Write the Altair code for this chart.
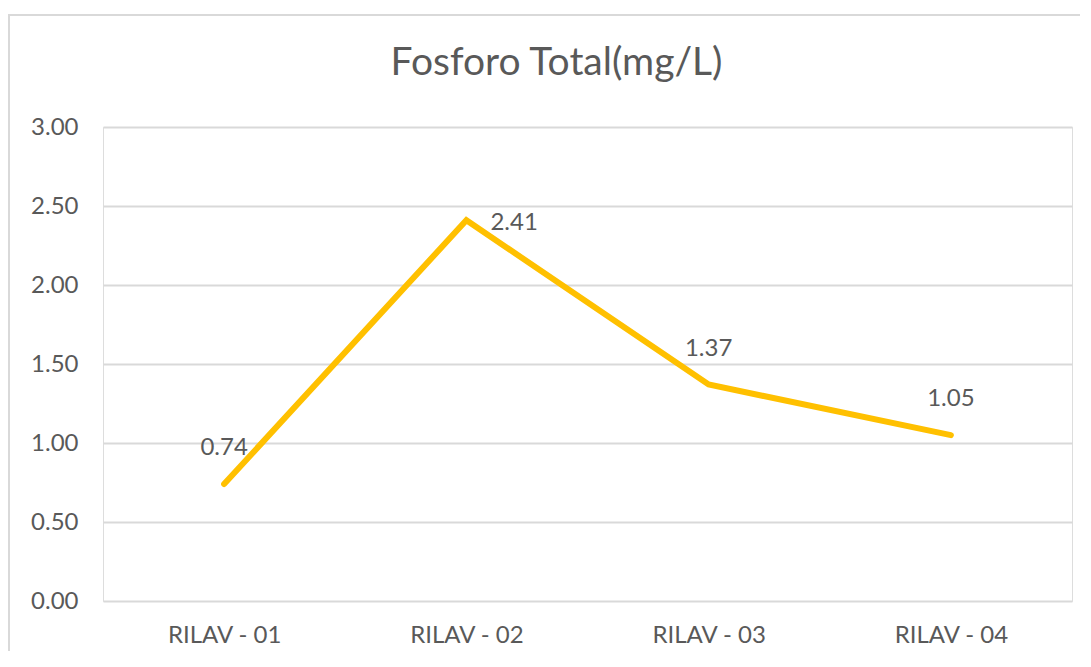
import altair as alt
import pandas as pd

categories = ["RILAV - 01", "RILAV - 02", "RILAV - 03", "RILAV - 04"]
values = [0.74, 2.41, 1.37, 1.05]
y_ticks = [0.0, 0.5, 1.0, 1.5, 2.0, 2.5, 3.0]

df = pd.DataFrame({"cat": categories, "val": values})

FONT = "Lato"
GREY = "#595959"

x = alt.X("cat:N", sort=categories, title=None,
          scale=alt.Scale(type="point", padding=0.5),
          axis=alt.Axis(labelAngle=0, labelFontSize=24, labelColor=GREY, labelFont=FONT,
                        domain=False, ticks=False, labelPadding=22, grid=False))
y = alt.Y("val:Q", title=None,
          scale=alt.Scale(domain=[0, 3], nice=False, zero=True),
          axis=alt.Axis(values=y_ticks, format=".2f", labelFontSize=24, labelColor=GREY,
                        labelFont=FONT, domain=False, ticks=False, labelPadding=25,
                        gridColor="#d9d9d9", gridWidth=2))

base = alt.Chart(df)

line = base.mark_line(color="#FFC000", strokeWidth=6, strokeCap="round", strokeJoin="miter").encode(x=x, y=y)

labels_above = base.transform_filter(alt.datum.cat != "RILAV - 02").mark_text(
    dy=-36, fontSize=24, font=FONT, color=GREY, align="center", baseline="middle"
).encode(x=x, y=y, text=alt.Text("val:Q", format=".2f"))

labels_right = base.transform_filter(alt.datum.cat == "RILAV - 02").mark_text(
    dx=24, dy=3, fontSize=24, font=FONT, color=GREY, align="left", baseline="middle"
).encode(x=x, y=y, text=alt.Text("val:Q", format=".2f"))

frame = base.transform_filter(alt.datum.cat == "RILAV - 01").mark_rect(
    fill=None, stroke="#d9d9d9", strokeWidth=2
).encode(x=alt.value(-94), x2=alt.value(1000), y=alt.value(-112), y2=alt.value(700))

chart = alt.layer(frame, line, labels_above, labels_right).properties(
    width=969, height=474,
    title=alt.TitleParams("Fosforo Total(mg/L)", fontSize=39, font=FONT, fontWeight="normal",
                          color=GREY, offset=-88, dx=-31, baseline="middle"),
    padding={"left": 95, "top": 119, "right": 8, "bottom": 50},
    autosize=alt.AutoSizeParams(type="none"),
).configure_view(stroke=None).configure(background="white")

chart.save("out.html", embed_options={"renderer": "svg", "actions": False})
